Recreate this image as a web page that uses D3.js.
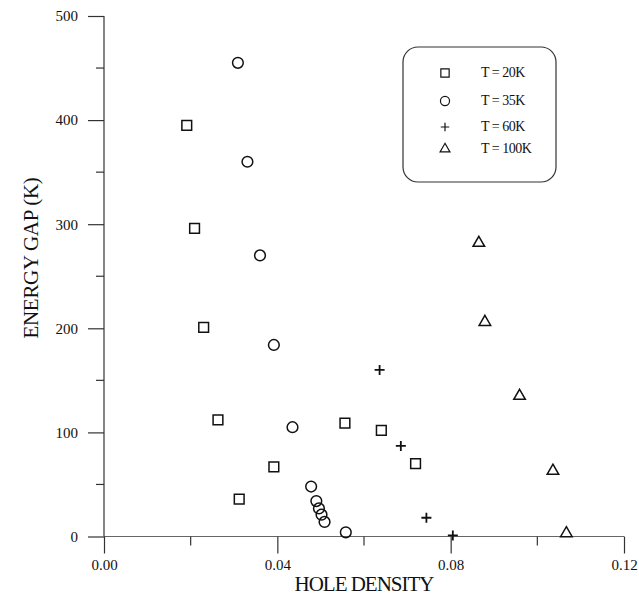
<!DOCTYPE html>
<html>
<head>
<meta charset="utf-8">
<script src="https://cdn.jsdelivr.net/npm/d3@7"></script>
<style>
  body { margin: 0; background: #fff; }
  text { font-family: "Liberation Serif", "Times New Roman", serif; fill: #111; }
</style>
</head>
<body>
<div id="chart"></div>
<script>
// hole density, energy gap (K)
const t20 = [[0.0191, 395], [0.0209, 296], [0.023, 201], [0.0263, 112], [0.0312, 36],
             [0.0392, 67], [0.0556, 109], [0.064, 102], [0.0719, 70]];
const t35 = [[0.0309, 455], [0.0331, 360], [0.036, 270], [0.0392, 184], [0.0435, 105],
             [0.0478, 48], [0.049, 34], [0.0496, 27], [0.0502, 21], [0.0509, 14], [0.0558, 4]];
const t60 = [[0.0636, 160], [0.0685, 87], [0.0744, 18], [0.0805, 1]];
const t100 = [[0.0865, 282], [0.0879, 206], [0.0959, 135], [0.1036, 63], [0.1067, 3]];

const legendLabels = ["T = 20K", "T = 35K", "T = 60K", "T = 100K"];
const xTicks = [0, 0.04, 0.08, 0.12];
const xMinor = [0.02, 0.06, 0.10];
const yTicks = [0, 100, 200, 300, 400, 500];
const yMinor = [50, 150, 250, 350, 450];

const W = 639, H = 599;
const margin = { top: 16, right: 15, bottom: 62.5, left: 104 };
const width = W - margin.left - margin.right;
const height = H - margin.top - margin.bottom;

const svg = d3.select("#chart").append("svg")
    .attr("width", W).attr("height", H);
const g = svg.append("g")
    .attr("transform", `translate(${margin.left},${margin.top})`);

const x = d3.scaleLinear().domain([0, 0.12]).range([0, width]);
const y = d3.scaleLinear().domain([0, 500]).range([height, 0]);

//=== axes ===
const xAxis = g.append("g").attr("transform", `translate(0,${height})`)
    .call(d3.axisBottom(x).tickValues(xTicks).tickFormat(d3.format(".2f"))
        .tickSize(17).tickPadding(6));
const yAxis = g.append("g")
    .call(d3.axisLeft(y).tickValues(yTicks).tickFormat(d3.format("d"))
        .tickSize(16).tickPadding(10));
[xAxis, yAxis].forEach(a => {
    a.select(".domain").attr("stroke", "#333").attr("stroke-width", 1.2);
    a.selectAll(".tick line").attr("stroke", "#333").attr("stroke-width", 1.2);
    a.selectAll("text").style("font-size", "15px")
        .style("font-family", "'Liberation Serif', serif").attr("fill", "#111");
});
// plain lines instead of the outer ticks
yAxis.select(".domain").attr("d", `M0,${y(500)}V${y(0)}`);
xAxis.select(".domain").attr("d", `M0,0H${width}`).attr("stroke", "#666");

g.selectAll(".xminor").data(xMinor).join("line")
    .attr("x1", d => x(d)).attr("x2", d => x(d))
    .attr("y1", height).attr("y2", height + 9)
    .attr("stroke", "#333").attr("stroke-width", 1.2);
g.selectAll(".yminor").data(yMinor).join("line")
    .attr("x1", -8).attr("x2", 0)
    .attr("y1", d => y(d)).attr("y2", d => y(d))
    .attr("stroke", "#333").attr("stroke-width", 1.2);

svg.append("text")
    .attr("x", margin.left + width / 2).attr("y", 591)
    .attr("text-anchor", "middle")
    .style("font-size", "21px").style("letter-spacing", "-1px")
    .text("HOLE DENSITY");
svg.append("text")
    .attr("transform", `translate(38,258) rotate(-90)`)
    .attr("text-anchor", "middle")
    .style("font-size", "21px").style("letter-spacing", "-0.3px")
    .text("ENERGY GAP (K)");

//=== markers ===
const sq = d3.symbol().type(d3.symbolSquare).size(95)();
const circ = d3.symbol().type(d3.symbolCircle).size(90)();
const tri = d3.symbol().type(d3.symbolTriangle).size(58)();
const plus = "M-5,0H5M0,-5V5";
const shapes = [sq, circ, plus, tri];
const series = [t20, t35, t60, t100];

series.forEach((s, i) => {
    g.append("g").selectAll("path").data(s).join("path")
        .attr("d", shapes[i])
        .attr("transform", d => `translate(${x(d[0])},${y(d[1])})`)
        .attr("fill", "none").attr("stroke", "#111")
        .attr("stroke-width", i === 2 ? 1.8 : 1.5);
});

//=== legend ===
const lg = svg.append("g").attr("transform", "translate(403,47)");
lg.append("rect").attr("width", 153).attr("height", 135)
    .attr("rx", 15).attr("ry", 15)
    .attr("fill", "none").attr("stroke", "#333").attr("stroke-width", 1.2);
const rows = [26, 54, 80, 102];
legendLabels.forEach((lab, i) => {
    lg.append("path").attr("d", shapes[i])
        .attr("transform", `translate(42,${rows[i]}) scale(0.85)`)
        .attr("fill", "none").attr("stroke", "#111").attr("stroke-width", 1.4);
    lg.append("text").attr("x", 78).attr("y", rows[i] + 4)
        .style("font-size", "14px").style("letter-spacing", "-0.5px")
        .text(lab);
});
</script>
</body>
</html>
